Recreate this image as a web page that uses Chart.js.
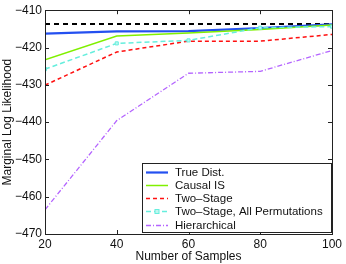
<!DOCTYPE html>
<html><head><meta charset="utf-8">
<script src="https://cdn.jsdelivr.net/npm/chart.js@4/dist/chart.umd.min.js"></script>
<style>html,body{margin:0;padding:0;background:#fff}#wrap{width:346px;height:264px}</style>
</head><body><div id="wrap"><canvas id="c" width="346" height="264"></canvas></div>
<script>
const samples = [20, 40, 60, 80, 100];
const trueDist = [-416.3, -415.7, -415.6, -414.8, -413.8];
const causalIS = [-423.3, -416.9, -416.1, -415.2, -414.0];
const twoStage = [-430.1, -421.2, -418.3, -418.3, -416.5];
const twoStageAllPerm = [-425.8, -418.9, -418.1, -414.7, -414.4];
const hierarchical = [-463.5, -439.6, -426.9, -426.4, -420.8];
const reference = [-413.7, -413.7, -413.7, -413.7, -413.7];
const xTicks = [20, 40, 60, 80, 100];
const yTicks = [-470, -460, -450, -440, -430, -420, -410];

const FONT = "'Liberation Sans', Arial, sans-serif";
const pts = a => a.map((v, i) => ({x: samples[i], y: v}));

const datasets = [
  {label: 'True Dist.', data: pts(trueDist), borderColor: '#2450f0', borderWidth: 2.2, pointRadius: 0, inLegend: true},
  {label: 'Causal IS', data: pts(causalIS), borderColor: '#80f000', borderWidth: 1.5, pointRadius: 0, inLegend: true},
  {label: 'Two\u2013Stage', data: pts(twoStage), borderColor: '#ff1010', borderWidth: 1.5, borderDash: [4, 3], pointRadius: 0, inLegend: true},
  {label: 'Two\u2013Stage, All Permutations', data: pts(twoStageAllPerm), borderColor: '#66eedd', borderWidth: 1.5, borderDash: [5, 3], pointRadius: 2.2, pointStyle: 'rect', pointBackgroundColor: '#bff7ef', pointBorderColor: '#66eedd', pointBorderWidth: 1, inLegend: true},
  {label: 'Hierarchical', data: pts(hierarchical), borderColor: '#b464ff', borderWidth: 1.3, borderDash: [5, 2, 1, 2], pointRadius: 0, inLegend: true},
  {label: 'ref', data: pts(reference), borderColor: '#000000', borderWidth: 2, borderDash: [5, 4], pointRadius: 0, inLegend: false}
];
datasets.forEach((d, i) => { d.tension = 0; d.fill = false; d.order = (d.label === 'ref') ? 10 : 5 - i; });

const boxPlugin = {
  id: 'matlabBox',
  afterDatasetsDraw(chart) {
    const {ctx, chartArea: a, scales} = chart;
    ctx.save();
    ctx.strokeStyle = '#222';
    ctx.lineWidth = 1;
    ctx.beginPath();
    const tl = 4;
    xTicks.forEach(v => {
      const x = Math.round(scales.x.getPixelForValue(v)) + 0.5;
      ctx.moveTo(x, a.bottom); ctx.lineTo(x, a.bottom - tl);
      ctx.moveTo(x, a.top); ctx.lineTo(x, a.top + tl);
    });
    yTicks.forEach(v => {
      const y = Math.round(scales.y.getPixelForValue(v)) + 0.5;
      ctx.moveTo(a.left, y); ctx.lineTo(a.left + tl, y);
      ctx.moveTo(a.right, y); ctx.lineTo(a.right - tl, y);
    });
    ctx.stroke();
    ctx.strokeRect(Math.round(a.left) + 0.5, Math.round(a.top) + 0.5, Math.round(a.right - a.left), Math.round(a.bottom - a.top));

    // legend
    const lx = 142.5, ly = 163.5, lw = 189, lh = 69;
    ctx.fillStyle = '#fff';
    ctx.fillRect(lx, ly, lw, lh);
    ctx.strokeRect(lx, ly, lw, lh);
    const items = chart.data.datasets.filter(d => d.inLegend);
    ctx.font = '11.5px ' + FONT;
    ctx.textBaseline = 'middle';
    items.forEach((d, i) => {
      const y = Math.round(ly + 8 + i * 13.3) + 0.5;
      ctx.strokeStyle = d.borderColor;
      ctx.lineWidth = d.borderWidth;
      ctx.setLineDash(d.borderDash || []);
      ctx.beginPath(); ctx.moveTo(146, y); ctx.lineTo(168, y); ctx.stroke();
      ctx.setLineDash([]);
      if (d.pointRadius) {
        ctx.fillStyle = d.pointBackgroundColor; ctx.strokeStyle = d.pointBorderColor; ctx.lineWidth = 1;
        ctx.fillRect(155, y - 2, 4, 4); ctx.strokeRect(155, y - 2, 4, 4);
      }
      ctx.fillStyle = '#111';
      ctx.fillText(d.label, 175, y + 0.5);
    });
    ctx.restore();
  }
};

new Chart(document.getElementById('c'), {
  type: 'line',
  data: {datasets},
  options: {
    responsive: false, animation: false, devicePixelRatio: 1,
    layout: {padding: {top: 9, right: 14, left: 0, bottom: 0}},
    plugins: {legend: {display: false}, tooltip: {enabled: false}},
    scales: {
      x: {
        type: 'linear', min: 20, max: 100,
        afterBuildTicks: s => { s.ticks = xTicks.map(v => ({value: v})); },
        afterFit: s => { s.height = 30; },
        grid: {display: false, drawTicks: false},
        border: {display: false},
        ticks: {color: '#111', font: {family: FONT, size: 12}, padding: 3, maxRotation: 0},
        title: {display: true, text: 'Number of Samples', color: '#111', font: {family: FONT, size: 12}, padding: {top: 0, bottom: 0}}
      },
      y: {
        type: 'linear', min: -470, max: -410,
        afterBuildTicks: s => { s.ticks = yTicks.map(v => ({value: v})); },
        afterFit: s => { s.width = 45; },
        grid: {display: false, drawTicks: false},
        border: {display: false},
        ticks: {color: '#111', font: {family: FONT, size: 12}, padding: 3, callback: v => String(v).replace('-', '\u2212')},
        title: {display: true, text: 'Marginal Log Likelihood', color: '#111', font: {family: FONT, size: 12}, padding: {top: 0, bottom: 0}}
      }
    }
  },
  plugins: [boxPlugin]
});
</script></body></html>
